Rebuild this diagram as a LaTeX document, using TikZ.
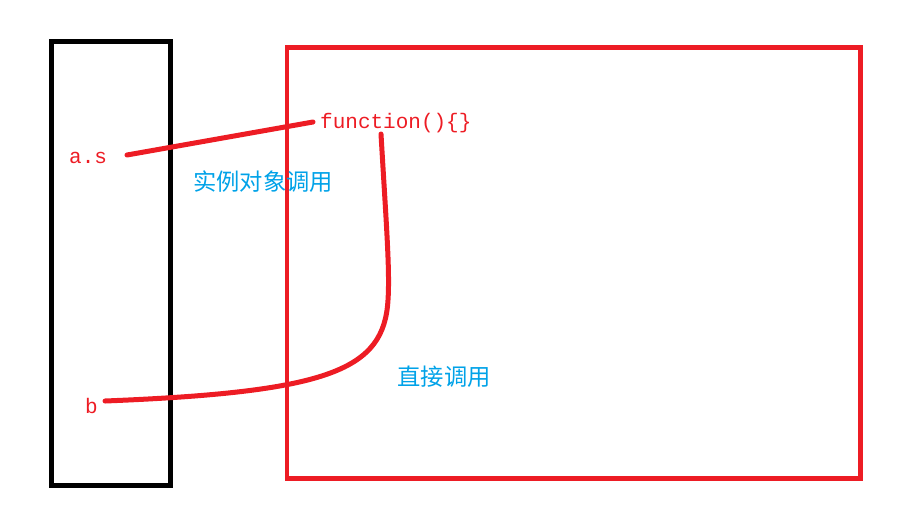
\documentclass[tikz,border=0pt]{standalone}
\usepackage{fontspec}
\setmonofont{Liberation Mono}
\newfontfamily\cjk{Noto Sans CJK SC}
\definecolor{pred}{HTML}{ED1C24}
\definecolor{pblue}{HTML}{00A2E8}
\begin{document}
\begin{tikzpicture}[x=1pt,y=-1pt,
  codetxt/.style={text=pred,font=\ttfamily\fontsize{21}{24}\selectfont,inner sep=0pt,anchor=base west},
  cntxt/.style={text=pblue,font=\cjk\fontsize{23.3}{26}\selectfont,inner sep=0pt},
  link/.style={draw=pred,line width=5pt,line cap=round}]
\useasboundingbox (0,0) rectangle (920,523);
\draw[line width=5pt,black] (51.5,41.5) rectangle (170,485.5);
\draw[line width=4.5pt,pred] (287,47.5) rectangle (860.5,478.5);
\node[codetxt] (as) at (69,163) {a.s};
\node[codetxt] (fn) at (320,128) {function()\{\}};
\node[codetxt] (b) at (85,413) {b};
\coordinate (asend) at (127,155);
\coordinate (fnend) at (313,122);
\coordinate (fnbot) at (381,134);
\coordinate (bend) at (105,401);
\draw[link] (asend) -- (fnend);
\draw[link] (fnbot) .. controls (386,220) and (390,270) .. (388,300)
  .. controls (384,370) and (330,392) .. (bend);
\node[cntxt] (c1) at (263,182) {实例对象调用};
\node[cntxt] (c2) at (444,377) {直接调用};
\end{tikzpicture}
\end{document}
